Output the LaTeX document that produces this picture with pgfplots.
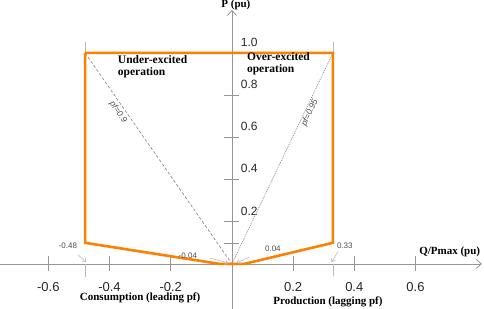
\documentclass[border=0pt]{standalone}
\usepackage{fontspec}
\setmainfont{Liberation Serif}
\newfontfamily\sans{Liberation Sans}
\usepackage{pgfplots}
\pgfplotsset{compat=1.18}
\usetikzlibrary{arrows.meta}
\definecolor{orng}{RGB}{255,128,0}
\definecolor{axgray}{RGB}{150,150,150}
\definecolor{annot}{RGB}{185,185,185}
\begin{document}
\begin{tikzpicture}
\begin{axis}[
  x=306pt, y=211pt,
  xmin=-0.758, xmax=0.817, ymin=-0.213, ymax=1.204,
  axis lines=middle,
  axis line style={axgray, line width=0.8pt, -{Straight Barb[length=5pt,width=9pt]}},
  xtick={-0.6,-0.4,-0.2,0.2,0.4,0.6},
  ytick={0.2,0.4,0.6,0.8,1.0},
  extra y ticks={0.1}, extra y tick labels={},
  tick style={axgray, line width=0.6pt},
  major tick length=15pt, tick align=center,
  /pgf/number format/assume math mode=true,
  /pgf/number format/fixed, /pgf/number format/precision=1,
  /pgf/number format/fixed zerofill,
  xticklabel style={font=\sans\fontsize{13}{13}\selectfont, text=black!85, yshift=-7pt},
  yticklabel style={font=\sans\fontsize{12}{12}\selectfont, text=black!85, anchor=south west, xshift=13pt, yshift=3pt},
  clip=false,
]
\coordinate (bbll) at (axis cs:-0.758,-0.213);
\coordinate (bbur) at (axis cs:0.824,1.251);
% reference lines
\addplot[gray, line width=0.6pt, dash pattern=on 3pt off 2pt] coordinates {(-0.48,1.0) (0,0)};
\addplot[gray, line width=0.6pt, dash pattern=on 1pt off 1pt] coordinates {(0,0) (0.33,1.0)};
\addplot[annot, line width=0.5pt] coordinates {(-0.48,1.0) (-0.48,1.05)};
\addplot[annot, line width=0.5pt] coordinates {(0.33,1.0) (0.33,1.05)};
\addplot[annot, line width=0.5pt] coordinates {(-0.48,0) (-0.48,-0.062)};
\addplot[annot, line width=0.5pt] coordinates {(0.33,0) (0.33,-0.055)};
% capability polygon
\addplot[orng, line width=2.6pt, line join=miter] coordinates {(-0.48,1.0) (-0.48,0.1) (-0.04,0) (0.04,0) (0.33,0.1) (0.33,1.0) (-0.48,1.0)};
% annotations
\draw[annot, line width=0.6pt, -{Straight Barb[length=3pt,width=5pt]}] (axis cs:-0.503,0.043) -- (axis cs:-0.476,0.009);
\draw[annot, line width=0.6pt, -{Straight Barb[length=3pt,width=5pt]}] (axis cs:-0.072,0.028) -- (axis cs:-0.012,0.005);
\draw[annot, line width=0.6pt, -{Straight Barb[length=3pt,width=5pt]}] (axis cs:0.059,0.033) -- (axis cs:0.016,0.005);
\draw[annot, line width=0.6pt, -{Straight Barb[length=3pt,width=5pt]}] (axis cs:0.346,0.057) -- (axis cs:0.326,0.009);
\node[font=\sans\fontsize{8}{8}\selectfont, text=black!70] at (axis cs:-0.536,0.085) {-0.48};
\node[font=\sans\fontsize{8}{8}\selectfont, text=black!70] at (axis cs:-0.144,0.038) {-0.04};
\node[font=\sans\fontsize{8}{8}\selectfont, text=black!70] at (axis cs:0.134,0.071) {0.04};
\node[font=\sans\fontsize{8}{8}\selectfont, text=black!70] at (axis cs:0.369,0.085) {0.33};
\node[font=\sans\itshape\fontsize{8.5}{8.5}\selectfont, text=black!70, rotate=-55.5, inner sep=0pt] at (axis cs:-0.372,0.72) {pf=0.9};
\node[font=\sans\itshape\fontsize{8.5}{8.5}\selectfont, text=black!70, rotate=65, inner sep=0pt] at (axis cs:0.255,0.716) {pf=0.95};
% labels
\node[font=\bfseries\fontsize{11}{11}\selectfont] at (axis cs:0.013,1.227) {P (pu)};
\node[font=\bfseries\fontsize{11}{11}\selectfont] at (axis cs:0.712,0.057) {Q/Pmax (pu)};
\node[font=\bfseries\fontsize{11}{11}\selectfont] at (axis cs:-0.30,-0.161) {Consumption (leading pf)};
\node[font=\bfseries\fontsize{11}{11}\selectfont] at (axis cs:0.314,-0.18) {Production (lagging pf)};
\node[font=\bfseries\fontsize{11.5}{12}\selectfont, anchor=north west, align=left, inner sep=0pt] at (axis cs:-0.373,0.99) {Under-excited\\operation};
\node[font=\bfseries\fontsize{11.5}{12}\selectfont, anchor=north west, align=left, inner sep=0pt] at (axis cs:0.049,1.005) {Over-excited\\operation};
\end{axis}
\pgfresetboundingbox
\path[use as bounding box] (bbll) rectangle (bbur);
\end{tikzpicture}
\end{document}
